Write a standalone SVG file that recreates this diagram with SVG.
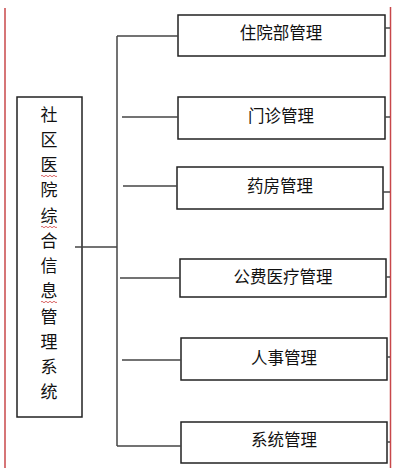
<svg xmlns="http://www.w3.org/2000/svg" width="405" height="468" viewBox="0 0 405 468">
<style>
.box{fill:#fff;stroke:#222;stroke-width:1.5}
.ln{stroke:#444;stroke-width:1.5;fill:none}
.red{stroke:#c8474a;stroke-width:1.5;fill:none}
.wav{stroke:#d04040;stroke-width:0.8;fill:none}
.t{font-family:"Noto Sans CJK SC","Noto Sans CJK JP",sans-serif;font-size:16.5px;fill:#111;text-anchor:middle}
.v{font-family:"Noto Sans CJK SC","Noto Sans CJK JP",sans-serif;font-size:17px;fill:#111;text-anchor:middle}
</style>
<rect width="405" height="468" fill="#fff"/>
<line class="red" x1="5" y1="8" x2="5" y2="468"/>
<line class="red" x1="390.5" y1="7" x2="390.5" y2="468"/>
<g id="root">
<rect class="box" x="17" y="97" width="65" height="320"/>
<text class="v" x="49" y="121">社</text>
<text class="v" x="49" y="146">区</text>
<text class="v" x="49" y="171">医</text>
<text class="v" x="49" y="196">院</text>
<text class="v" x="49" y="222">综</text>
<text class="v" x="49" y="247">合</text>
<text class="v" x="49" y="272">信</text>
<text class="v" x="49" y="297">息</text>
<text class="v" x="49" y="323">管</text>
<text class="v" x="49" y="348">理</text>
<text class="v" x="49" y="373">系</text>
<text class="v" x="49" y="398">统</text>
<path class="wav" d="M41 176 q1 -1.5 2 0 t2 0 t2 0 t2 0 t2 0 t2 0 t2 0 t2 0"/>
<path class="wav" d="M41 227 q1 -1.5 2 0 t2 0 t2 0 t2 0 t2 0 t2 0 t2 0 t2 0"/>
<path class="wav" d="M41 302 q1 -1.5 2 0 t2 0 t2 0 t2 0 t2 0 t2 0 t2 0 t2 0"/>
</g>
<g id="n1">
<rect class="box" x="178" y="15" width="207" height="41"/>
<text class="t" x="281" y="39">住院部管理</text>
</g>
<g id="n2">
<rect class="box" x="178" y="97" width="207" height="42"/>
<text class="t" x="281" y="122">门诊管理</text>
</g>
<g id="n3">
<rect class="box" x="177" y="167" width="206" height="42"/>
<text class="t" x="280" y="192">药房管理</text>
</g>
<g id="n4">
<rect class="box" x="180" y="259" width="206" height="38"/>
<text class="t" x="283" y="283">公费医疗管理</text>
</g>
<g id="n5">
<rect class="box" x="181" y="338" width="206" height="42"/>
<text class="t" x="284" y="364">人事管理</text>
</g>
<g id="n6">
<rect class="box" x="181" y="422" width="206" height="41"/>
<text class="t" x="284" y="446">系统管理</text>
</g>
<g id="connectors">
<line class="ln" x1="117" y1="36" x2="117" y2="446"/>
<line class="ln" x1="117" y1="36" x2="178" y2="36"/>
<line class="ln" x1="122" y1="117" x2="178" y2="117"/>
<line class="ln" x1="123" y1="186" x2="177" y2="186"/>
<line class="ln" x1="75" y1="247" x2="117" y2="247"/>
<line class="ln" x1="120" y1="278" x2="180" y2="278"/>
<line class="ln" x1="122" y1="360" x2="181" y2="360"/>
<line class="ln" x1="117" y1="446" x2="181" y2="446"/>
<line class="ln" x1="385" y1="28" x2="390" y2="28"/>
<line class="ln" x1="385" y1="117" x2="390" y2="117"/>
<line class="ln" x1="383" y1="192" x2="390" y2="192"/>
<line class="ln" x1="386" y1="277" x2="390" y2="277"/>
<line class="ln" x1="387" y1="357" x2="390" y2="357"/>
<line class="ln" x1="387" y1="442" x2="390" y2="442"/>
</g>
</svg>
